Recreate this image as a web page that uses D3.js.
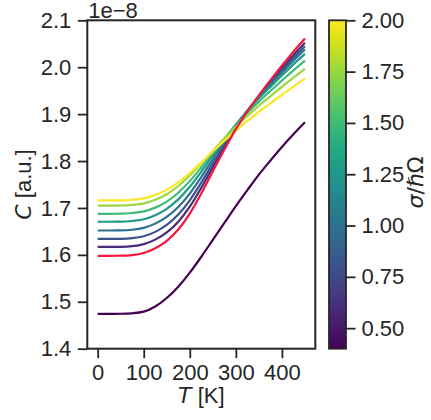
<!DOCTYPE html>
<html>
<head>
<meta charset="utf-8">
<script src="https://cdn.jsdelivr.net/npm/d3@7"></script>
<style>
  body { margin: 0; background: #fff; }
  svg { display: block; font-family: "Liberation Sans", Arial, sans-serif; }
  text { fill: #262626; }
  .math { font-family: "DejaVu Sans", sans-serif; }
</style>
</head>
<body>
<svg id="chart" width="431" height="420"></svg>
<script>
// temperatures (K)
const temps = [0, 25, 50, 75, 100, 125, 150, 175, 200, 225, 250, 275, 300, 325, 350, 375, 400, 425, 450];

// sigma / hbar Omega for each coloured curve
const sigmas = [0.4, 0.6, 0.8, 1.0, 1.25, 1.5, 1.75, 2.0];

// C values (units of 1e-8), one row per sigma
const curves = [
  [1.4744, 1.4744, 1.4745, 1.4755, 1.479, 1.490, 1.508, 1.532, 1.562, 1.596, 1.632, 1.668, 1.704, 1.738, 1.771, 1.801, 1.830, 1.857, 1.8825],
  [1.617, 1.617, 1.6172, 1.6185, 1.6229, 1.6325, 1.6478, 1.6708, 1.7029, 1.743, 1.7867, 1.8295, 1.8704, 1.906, 1.9381, 1.9681, 1.9974, 2.0257, 2.0522],
  [1.634, 1.634, 1.6342, 1.6355, 1.6396, 1.649, 1.6638, 1.6859, 1.7163, 1.754, 1.7949, 1.8348, 1.8729, 1.9064, 1.9367, 1.9652, 1.9929, 2.0197, 2.0449],
  [1.652, 1.652, 1.6522, 1.6536, 1.6576, 1.6666, 1.6808, 1.7019, 1.7307, 1.7658, 1.8037, 1.8407, 1.8759, 1.9072, 1.9358, 1.9625, 1.9886, 2.0139, 2.0378],
  [1.6706, 1.6706, 1.6708, 1.6722, 1.6759, 1.6845, 1.6981, 1.7182, 1.7451, 1.7773, 1.8119, 1.8458, 1.8779, 1.9067, 1.9333, 1.9581, 1.9824, 2.006, 2.0284],
  [1.6876, 1.6876, 1.6878, 1.6892, 1.6926, 1.7007, 1.7136, 1.7325, 1.7572, 1.7863, 1.8173, 1.8476, 1.8762, 1.9024, 1.9267, 1.9493, 1.9717, 1.9934, 2.0141],
  [1.705, 1.705, 1.7052, 1.7065, 1.7099, 1.7174, 1.7293, 1.7468, 1.769, 1.7946, 1.8216, 1.848, 1.8729, 1.896, 1.9179, 1.9381, 1.9582, 1.9776, 1.9965],
  [1.716, 1.716, 1.7162, 1.7175, 1.7205, 1.7275, 1.7385, 1.7545, 1.7745, 1.797, 1.8205, 1.8435, 1.865, 1.8855, 1.905, 1.923, 1.941, 1.9585, 1.9755]
];

// reference curve drawn in red
const refCurve = [1.598, 1.598, 1.5982, 1.5995, 1.604, 1.614, 1.630, 1.654, 1.688, 1.731, 1.778, 1.824, 1.868, 1.906, 1.940, 1.972, 2.003, 2.033, 2.061];

const xTicks = [0, 100, 200, 300, 400];
const yTicks = [1.4, 1.5, 1.6, 1.7, 1.8, 1.9, 2.0, 2.1];
const cbTicks = [0.5, 0.75, 1.0, 1.25, 1.5, 1.75, 2.0];

const svg = d3.select("#chart");
const ink = "#262626";
const fs = 22;

// plot box
const L = 87.3, R = 315.3, T = 20.3, B = 348.7;

const x = d3.scaleLinear().domain([-22.5, 472.5]).range([L, R]);
const y = d3.scaleLinear().domain([1.4, 2.1]).range([B, T]);
const cmin = 0.4, cmax = 2.0;
const color = d3.scaleSequential(d3.interpolateViridis).domain([cmin, cmax]);

const line = d3.line()
  .x((d, i) => x(temps[i]))
  .y(d => y(d))
  .curve(d3.curveMonotoneX);

// curves
svg.append("g")
  .selectAll("path")
  .data(curves)
  .join("path")
    .attr("d", line)
    .attr("fill", "none")
    .attr("stroke", (d, i) => color(sigmas[i]))
    .attr("stroke-width", 2.2);

svg.append("path")
  .attr("d", line(refCurve))
  .attr("fill", "none")
  .attr("stroke", "#f5163c")
  .attr("stroke-width", 2.2);

// axes
const xAxis = svg.append("g")
  .attr("transform", `translate(0,${B})`)
  .call(d3.axisBottom(x).tickValues(xTicks).tickSize(9.5).tickPadding(6.5).tickSizeOuter(0));
const yAxis = svg.append("g")
  .attr("transform", `translate(${L},0)`)
  .call(d3.axisLeft(y).tickValues(yTicks).tickFormat(d3.format(".1f")).tickSize(9.5).tickPadding(6.5).tickSizeOuter(0));

[xAxis, yAxis].forEach(g => {
  g.select(".domain").remove();
  g.selectAll("line").attr("stroke", ink).attr("stroke-width", 1.8);
  g.selectAll("text").attr("fill", ink).style("font-size", fs + "px").style("font-family", "Liberation Sans");
});

// frame
svg.append("rect")
  .attr("x", L).attr("y", T)
  .attr("width", R - L).attr("height", B - T)
  .attr("fill", "none").attr("stroke", ink).attr("stroke-width", 2);

// offset text
svg.append("text")
  .attr("x", L + 1).attr("y", 17.5)
  .style("font-size", fs + "px")
  .text("1e\u22128");

// axis labels
const xl = svg.append("text")
  .attr("x", (L + R) / 2).attr("y", 403)
  .attr("text-anchor", "middle")
  .style("font-size", fs + "px");
xl.append("tspan").attr("class", "math").style("font-style", "italic").text("T");
xl.append("tspan").text(" [K]");

const yl = svg.append("text")
  .attr("transform", `translate(31,${(T + B) / 2}) rotate(-90)`)
  .attr("text-anchor", "middle")
  .style("font-size", fs + "px");
yl.append("tspan").attr("class", "math").style("font-style", "italic").text("C");
yl.append("tspan").text(" [a.u.]");

// colorbar
const cbX = 329, cbW = 17;
const cy = d3.scaleLinear().domain([cmin, cmax]).range([B, T]);

const grad = svg.append("defs").append("linearGradient")
  .attr("id", "cbgrad")
  .attr("x1", 0).attr("y1", 1).attr("x2", 0).attr("y2", 0);
grad.selectAll("stop")
  .data(d3.range(0, 1.0001, 0.05))
  .join("stop")
    .attr("offset", d => d)
    .attr("stop-color", d => d3.interpolateViridis(d));

svg.append("rect")
  .attr("x", cbX).attr("y", T)
  .attr("width", cbW).attr("height", B - T)
  .attr("fill", "url(#cbgrad)")
  .attr("stroke", ink).attr("stroke-width", 1.8);

const cAxis = svg.append("g")
  .attr("transform", `translate(${cbX + cbW},0)`)
  .call(d3.axisRight(cy).tickValues(cbTicks).tickFormat(d3.format(".2f")).tickSize(9.5).tickPadding(6).tickSizeOuter(0));
cAxis.select(".domain").remove();
cAxis.selectAll("line").attr("stroke", ink).attr("stroke-width", 1.8);
cAxis.selectAll("text").attr("fill", ink).style("font-size", fs + "px").style("font-family", "Liberation Sans");

const cl = svg.append("text")
  .attr("class", "math")
  .attr("transform", `translate(423,${(T + B) / 2 - 2}) rotate(-90)`)
  .attr("text-anchor", "middle")
  .style("font-size", fs + "px");
cl.append("tspan").style("font-style", "italic").text("\u03C3");
cl.append("tspan").text("/");
cl.append("tspan").style("font-style", "italic").text("\u210F");
cl.append("tspan").text("\u03A9");
</script>
</body>
</html>
